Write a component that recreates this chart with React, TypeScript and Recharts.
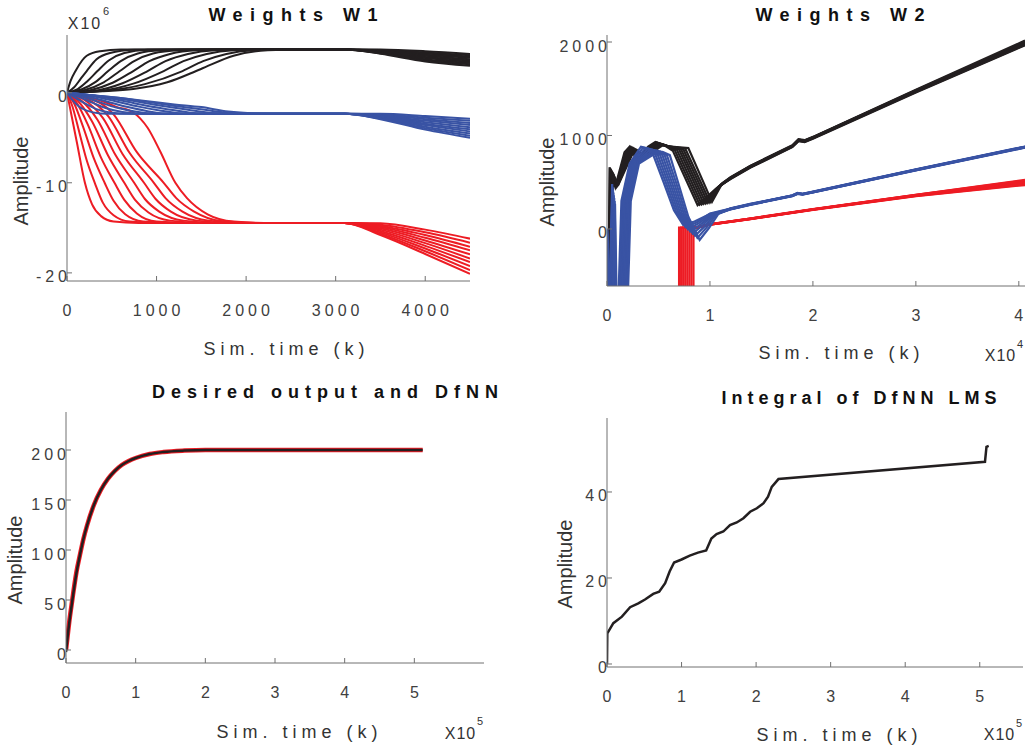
import React from 'react';
import { LineChart, Line, XAxis, YAxis } from 'recharts';

type Pt = [number, number];

const FONT = '"Liberation Sans", Arial, Helvetica, sans-serif';
const BLACK = '#231f20';
const BLUE = '#3953a4';
const RED = '#ed1c24';
const AXIS = '#707070';

// ---------- Weights W1 (x: samples, y: x10^6) ----------
const W1_X_TICKS = [0, 1000, 2000, 3000, 4000];
const W1_Y_TICKS = [-20, -10, 0];

const W1_BLACK: Pt[][] = [
  [[0,0],[40,1.3],[100,2.5],[220,4.1],[370,4.6],[600,4.8],[3100,4.8],[3500,4.78],[4000,4.6],[4500,4.3]],
  [[0,0],[80,0.6],[150,1.5],[220,2.4],[330,3.7],[480,4.4],[750,4.75],[1100,4.8],[3100,4.8],[3500,4.73],[4000,4.47],[4500,4.15]],
  [[0,0],[120,0.4],[230,1.3],[340,2.4],[470,3.6],[640,4.4],[900,4.75],[1300,4.8],[3100,4.8],[3500,4.68],[4000,4.35],[4500,4.01]],
  [[0,0],[160,0.35],[320,1.2],[460,2.4],[600,3.5],[790,4.35],[1050,4.7],[1500,4.8],[3100,4.8],[3500,4.63],[4000,4.22],[4500,3.87]],
  [[0,0],[200,0.3],[410,1.15],[590,2.4],[750,3.5],[960,4.35],[1250,4.7],[1700,4.8],[3100,4.8],[3500,4.58],[4000,4.1],[4500,3.72]],
  [[0,0],[250,0.25],[510,1.1],[740,2.4],[920,3.5],[1150,4.3],[1450,4.7],[1900,4.8],[3100,4.8],[3500,4.52],[4000,3.97],[4500,3.58]],
  [[0,0],[300,0.2],[620,1.05],[900,2.4],[1100,3.5],[1350,4.3],[1650,4.7],[2100,4.8],[3100,4.8],[3500,4.47],[4000,3.85],[4500,3.44]],
  [[0,0],[360,0.18],[740,1.0],[1080,2.4],[1300,3.5],[1560,4.3],[1860,4.7],[2300,4.8],[3100,4.8],[3500,4.42],[4000,3.72],[4500,3.29]],
  [[0,0],[370,0.15],[870,0.95],[1290,2.4],[1520,3.5],[1780,4.3],[2080,4.7],[2450,4.8],[3100,4.8],[3500,4.37],[4000,3.6],[4500,3.15]],
  [[0,0],[370,0.15],[740,0.4],[1120,1.15],[1490,2.6],[1860,4.1],[2240,4.7],[2600,4.8],[3100,4.8],[3500,4.32],[4000,3.47],[4500,3.0]],
];

const W1_RED: Pt[][] = [
  [[0,0],[50,-2.5],[110,-5.5],[200,-10],[280,-12.4],[380,-13.7],[520,-14.3],[800,-14.45],[3100,-14.45],[3500,-14.5],[4000,-15.2],[4500,-16.2]],
  [[0,0],[60,-1.5],[140,-4.5],[220,-7.5],[310,-10],[400,-12.2],[520,-13.6],[700,-14.3],[1000,-14.45],[3100,-14.45],[3500,-14.65],[4000,-15.5],[4500,-16.65]],
  [[0,0],[80,-1.2],[180,-3.8],[300,-7.3],[420,-10],[520,-12],[650,-13.5],[850,-14.3],[1200,-14.45],[3100,-14.45],[3500,-14.8],[4000,-15.8],[4500,-17.1]],
  [[0,0],[100,-1],[230,-3.5],[380,-7.2],[530,-10],[640,-11.9],[780,-13.4],[1000,-14.3],[1400,-14.45],[3100,-14.45],[3500,-14.9],[4000,-16.1],[4500,-17.5]],
  [[0,0],[120,-0.9],[280,-3.2],[460,-7],[640,-10],[760,-11.9],[910,-13.3],[1150,-14.2],[1550,-14.45],[3100,-14.45],[3500,-15.05],[4000,-16.4],[4500,-17.95]],
  [[0,0],[150,-0.8],[340,-3],[540,-6.9],[750,-10],[870,-11.8],[1030,-13.2],[1300,-14.2],[1700,-14.45],[3100,-14.45],[3500,-15.2],[4000,-16.7],[4500,-18.4]],
  [[0,0],[180,-0.7],[400,-2.8],[620,-6.8],[860,-10],[990,-11.8],[1160,-13.2],[1450,-14.2],[1850,-14.45],[3100,-14.45],[3500,-15.35],[4000,-17.0],[4500,-18.8]],
  [[0,0],[210,-0.6],[460,-2.6],[700,-6.7],[970,-10],[1100,-11.7],[1290,-13.2],[1580,-14.2],[2000,-14.45],[3100,-14.45],[3500,-15.5],[4000,-17.3],[4500,-19.25]],
  [[0,0],[240,-0.55],[520,-2.4],[780,-6.6],[1080,-10],[1220,-11.7],[1420,-13.2],[1720,-14.25],[2100,-14.45],[3100,-14.45],[3500,-15.65],[4000,-17.6],[4500,-19.7]],
  [[0,0],[270,-0.5],[560,-1.6],[740,-2.2],[900,-3.9],[1040,-6.5],[1210,-10],[1340,-11.7],[1570,-13.5],[1860,-14.3],[2200,-14.45],[3100,-14.45],[3500,-15.8],[4000,-17.9],[4500,-20.1]],
];

const W1_BLUE: Pt[][] = [
  [[0,0],[60,-0.8],[130,-1.5],[220,-2.0],[370,-2.3],[550,-2.35],[3100,-2.35],[3500,-2.35],[4000,-2.6],[4500,-2.9]],
  [[0,0],[100,-0.6],[200,-1.2],[320,-1.8],[480,-2.2],[700,-2.35],[3100,-2.35],[3500,-2.42],[4000,-2.77],[4500,-3.13]],
  [[0,0],[140,-0.5],[280,-1.1],[430,-1.7],[620,-2.15],[850,-2.35],[3100,-2.35],[3500,-2.48],[4000,-2.94],[4500,-3.37]],
  [[0,0],[180,-0.45],[360,-1.05],[550,-1.65],[760,-2.1],[1000,-2.35],[3100,-2.35],[3500,-2.55],[4000,-3.1],[4500,-3.6]],
  [[0,0],[220,-0.4],[450,-1.0],[680,-1.6],[900,-2.05],[1150,-2.35],[3100,-2.35],[3500,-2.62],[4000,-3.27],[4500,-3.83]],
  [[0,0],[260,-0.35],[540,-0.95],[800,-1.55],[1050,-2.0],[1300,-2.33],[1500,-2.35],[3100,-2.35],[3500,-2.68],[4000,-3.44],[4500,-4.07]],
  [[0,0],[300,-0.32],[620,-0.9],[920,-1.5],[1200,-1.95],[1450,-2.3],[1650,-2.35],[3100,-2.35],[3500,-2.75],[4000,-3.6],[4500,-4.3]],
  [[0,0],[300,-0.3],[700,-0.85],[1050,-1.45],[1350,-1.9],[1600,-2.25],[1800,-2.35],[3100,-2.35],[3500,-2.82],[4000,-3.77],[4500,-4.53]],
  [[0,0],[300,-0.3],[750,-0.8],[1150,-1.4],[1500,-1.85],[1750,-2.2],[2000,-2.35],[3100,-2.35],[3500,-2.88],[4000,-3.94],[4500,-4.77]],
  [[0,0],[300,-0.3],[600,-0.6],[900,-0.95],[1200,-1.3],[1500,-1.6],[1800,-2.1],[2100,-2.3],[2400,-2.35],[3100,-2.35],[3500,-2.95],[4000,-4.1],[4500,-5.0]],
];

// ---------- Weights W2 (x: x10^4 samples) ----------
const W2_X_TICKS = [0, 1, 2, 3, 4];
const W2_Y_TICKS = [0, 1000, 2000];

const W2_BLACK: Pt[][] = [
  [[0,0],[0.01,-1200],[0.025,660],[0.05,560],[0.08,450],[0.17,820],[0.22,880],[0.29,740],[0.40,880],[0.47,930],[0.55,900],[0.64,835],[0.88,255],[1.05,420],[1.2,540],[1.39,660],[1.8,880],[1.86,945],[1.92,935],[2,970],[3,1470],[4.06,1975]],
  [[0,0],[0.01,-1200],[0.03,650],[0.055,555],[0.085,455],[0.18,815],[0.23,875],[0.30,745],[0.41,875],[0.48,925],[0.56,897],[0.66,840],[0.90,260],[1.06,430],[1.2,545],[1.39,665],[1.8,885],[1.86,950],[1.92,940],[2,975],[3,1475],[4.06,1985]],
  [[0,0],[0.01,-1200],[0.035,640],[0.06,550],[0.09,460],[0.19,810],[0.24,870],[0.31,750],[0.42,870],[0.49,920],[0.57,894],[0.68,845],[0.92,265],[1.07,440],[1.2,550],[1.39,670],[1.8,890],[1.86,955],[1.92,945],[2,980],[3,1480],[4.06,1995]],
  [[0,0],[0.01,-1200],[0.04,630],[0.065,545],[0.095,465],[0.20,805],[0.25,865],[0.32,755],[0.43,865],[0.50,915],[0.58,891],[0.70,850],[0.94,270],[1.08,450],[1.2,540],[1.39,660],[1.8,880],[1.86,945],[1.92,935],[2,970],[3,1465],[4.06,1970]],
  [[0,0],[0.015,-1200],[0.045,620],[0.07,540],[0.10,470],[0.21,800],[0.26,860],[0.33,760],[0.44,860],[0.51,910],[0.59,888],[0.72,852],[0.96,275],[1.09,460],[1.2,535],[1.39,655],[1.8,875],[1.86,940],[1.92,930],[2,965],[3,1460],[4.06,1965]],
  [[0,0],[0.015,-1200],[0.05,610],[0.075,535],[0.105,475],[0.22,795],[0.27,855],[0.34,765],[0.45,855],[0.52,905],[0.60,885],[0.74,855],[0.98,280],[1.10,470],[1.2,545],[1.39,665],[1.8,885],[1.86,950],[1.92,940],[2,975],[3,1478],[4.06,1990]],
  [[0,0],[0.015,-1200],[0.055,600],[0.08,530],[0.11,480],[0.23,790],[0.28,850],[0.35,770],[0.46,850],[0.53,900],[0.61,882],[0.76,860],[1.00,285],[1.11,480],[1.2,550],[1.39,670],[1.8,890],[1.86,955],[1.92,945],[2,980],[3,1485],[4.06,2005]],
  [[0,0],[0.015,-1200],[0.06,590],[0.085,525],[0.115,485],[0.24,785],[0.29,845],[0.36,775],[0.47,845],[0.54,895],[0.62,880],[0.79,865],[1.02,290],[1.12,490],[1.2,555],[1.39,675],[1.8,895],[1.86,960],[1.92,950],[2,985],[3,1490],[4.06,2015]],
];

const W2_BLUE: Pt[][] = [
  [[0,0],[0.004,-1500],[0.05,480],[0.07,-1500],[0.09,-1500],[0.14,300],[0.22,700],[0.33,880],[0.40,860],[0.45,790],[0.55,500],[0.65,200],[0.74,43],[0.85,80],[1.0,160],[1.2,215],[1.39,262],[1.8,355],[1.85,380],[1.9,372],[2,395],[3,632],[4.06,875]],
  [[0,0],[0.01,-1500],[0.054,450],[0.075,-1500],[0.103,-1500],[0.153,300],[0.233,700],[0.35,870],[0.42,855],[0.472,790],[0.57,500],[0.67,190],[0.763,20],[0.87,70],[1.0,165],[1.2,218],[1.39,265],[1.8,358],[1.85,383],[1.9,375],[2,398],[3,636],[4.06,880]],
  [[0,0],[0.016,-1500],[0.058,420],[0.08,-1500],[0.116,-1500],[0.166,300],[0.246,700],[0.37,860],[0.44,850],[0.494,790],[0.59,500],[0.69,180],[0.786,-3],[0.89,60],[1.0,150],[1.2,212],[1.39,260],[1.8,352],[1.85,377],[1.9,369],[2,392],[3,628],[4.06,872]],
  [[0,0],[0.022,-1500],[0.062,390],[0.085,-1500],[0.129,-1500],[0.179,300],[0.259,700],[0.39,850],[0.46,845],[0.516,790],[0.61,500],[0.71,170],[0.809,-26],[0.91,50],[1.0,140],[1.2,210],[1.39,258],[1.8,350],[1.85,375],[1.9,367],[2,390],[3,626],[4.06,870]],
  [[0,0],[0.028,-1500],[0.066,360],[0.09,-1500],[0.142,-1500],[0.192,300],[0.272,700],[0.41,840],[0.48,840],[0.538,790],[0.63,500],[0.73,160],[0.832,-49],[0.93,40],[1.02,145],[1.2,215],[1.39,263],[1.8,356],[1.85,381],[1.9,373],[2,396],[3,634],[4.06,878]],
  [[0,0],[0.034,-1500],[0.07,330],[0.095,-1500],[0.155,-1500],[0.205,300],[0.285,700],[0.43,830],[0.50,835],[0.56,790],[0.65,500],[0.75,150],[0.855,-72],[0.95,30],[1.04,150],[1.2,220],[1.39,268],[1.8,360],[1.85,385],[1.9,377],[2,400],[3,638],[4.06,882]],
  [[0,0],[0.04,-1500],[0.074,300],[0.1,-1500],[0.168,-1500],[0.218,300],[0.298,700],[0.45,820],[0.52,830],[0.582,790],[0.67,500],[0.77,140],[0.878,-95],[0.97,20],[1.06,155],[1.2,218],[1.39,266],[1.8,357],[1.85,382],[1.9,374],[2,397],[3,635],[4.06,879]],
  [[0,0],[0.046,-1500],[0.078,270],[0.105,-1500],[0.181,-1500],[0.231,300],[0.311,700],[0.47,810],[0.54,825],[0.61,790],[0.69,500],[0.79,130],[0.90,-118],[0.99,10],[1.08,160],[1.2,213],[1.39,261],[1.8,353],[1.85,378],[1.9,370],[2,393],[3,630],[4.06,874]],
];

const W2_RED: Pt[][] = [
  [[0,-3000],[0.70,-3000],[0.70,15],[0.86,15],[1.0,45],[1.39,105],[2,205],[3,352],[4.06,470]],
  [[0,-3000],[0.72,-3000],[0.72,15],[0.86,15],[1.0,46],[1.39,106],[2,206],[3,354],[4.06,478]],
  [[0,-3000],[0.74,-3000],[0.74,15],[0.86,15],[1.0,47],[1.39,107],[2,207],[3,356],[4.06,486]],
  [[0,-3000],[0.76,-3000],[0.76,15],[0.86,15],[1.0,48],[1.39,108],[2,208],[3,358],[4.06,494]],
  [[0,-3000],[0.78,-3000],[0.78,15],[0.86,15],[1.0,49],[1.39,109],[2,209],[3,360],[4.06,502]],
  [[0,-3000],[0.80,-3000],[0.80,15],[0.86,15],[1.0,50],[1.39,110],[2,210],[3,362],[4.06,510]],
  [[0,-3000],[0.82,-3000],[0.82,15],[0.86,15],[1.0,51],[1.39,111],[2,211],[3,364],[4.06,518]],
  [[0,-3000],[0.84,-3000],[0.84,15],[0.86,15],[1.0,52],[1.39,112],[2,212],[3,366],[4.06,525]],
];

// ---------- Desired output and DfNN (x: x10^5 samples) ----------
const OUT_X_TICKS = [0, 1, 2, 3, 4, 5];
const OUT_Y_TICKS = [0, 50, 100, 150, 200];
const OUT_X = [0, 0.02, 0.05, 0.08, 0.1, 0.15, 0.2, 0.25, 0.3, 0.4, 0.5, 0.6, 0.7, 0.8, 0.9, 1.0, 1.2, 1.4, 1.7, 2.0, 3.0, 4.0, 5.12];
const DESIRED_Y = [0, 12, 30, 45, 55, 78, 95, 111, 124, 145, 160, 171, 179, 185, 189, 192, 196, 198, 199.4, 200, 200, 200, 200];
const DFNN_Y = [-2, 11, 29, 44, 54, 77, 95, 111, 124, 145, 160, 171, 179, 185, 189, 192, 196, 198, 199.4, 200, 200, 200, 200];

// ---------- Integral of DfNN LMS (x: x10^5 samples) ----------
const LMS_X_TICKS = [0, 1, 2, 3, 4, 5];
const LMS_Y_TICKS = [0, 20, 40];
const LMS_X = [0, 0.004, 0.085, 0.2, 0.31, 0.42, 0.51, 0.62, 0.7, 0.78, 0.84, 0.9, 1.0, 1.11, 1.22, 1.33, 1.4, 1.47, 1.56, 1.65, 1.74, 1.83, 1.92, 2.01, 2.1, 2.16, 2.21, 2.3, 5.07, 5.09, 5.12];
const LMS_Y = [0, 7.1, 9.5, 11.0, 13.2, 14.1, 15.0, 16.3, 16.8, 18.8, 21.5, 23.6, 24.3, 25.2, 25.9, 26.4, 29.2, 30.2, 30.8, 32.3, 32.9, 33.9, 35.4, 36.2, 37.4, 38.9, 41.2, 43.0, 47.0, 50.5, 50.7];

const zipPts = (xs: number[], ys: number[]): Pt[] => xs.map((x, i) => [x, ys[i]] as Pt);
const toRows = (pts: Pt[]) => pts.map(([x, y]) => ({ x, y }));

interface Series {
  color: string;
  width: number;
  lines: Pt[][];
}

const XTick = (p: any) => (
  <text
    x={p.x + 2}
    y={p.y + 29}
    textAnchor="middle"
    dominantBaseline="central"
    fill="#404040"
    fontSize={16}
    fontFamily={FONT}
    style={{ letterSpacing: 4 }}
  >
    {p.payload.value}
  </text>
);

const YTick = (p: any) => (
  <text
    x={p.x + 4}
    y={p.y + 4}
    textAnchor="end"
    dominantBaseline="central"
    fill="#404040"
    fontSize={16}
    fontFamily={FONT}
    style={{ letterSpacing: 4 }}
  >
    {p.payload.value}
  </text>
);

interface PanelProps {
  plot: [number, number, number, number]; // left, top, right, bottom in page px
  xDomain: [number, number];
  yDomain: [number, number];
  xTicks: number[];
  yTicks: number[];
  series: Series[];
  curve: 'monotone' | 'linear';
}

function Panel({ plot, xDomain, yDomain, xTicks, yTicks, series, curve }: PanelProps) {
  const [L, T, R, B] = plot;
  return (
    <div style={{ position: 'absolute', left: 0, top: 0 }}>
      <LineChart
        width={1026}
        height={751}
        margin={{ left: L - 40, top: T, right: 1026 - R, bottom: 751 - B - 40 }}
      >
        <XAxis
          type="number"
          dataKey="x"
          domain={xDomain}
          ticks={xTicks}
          interval={0}
          allowDataOverflow
          height={40}
          tickSize={-5}
          tickMargin={5}
          stroke={AXIS}
          tickLine={{ stroke: AXIS }}
          tick={XTick}
        />
        <YAxis
          type="number"
          domain={yDomain}
          ticks={yTicks}
          interval={0}
          allowDataOverflow
          width={40}
          tickSize={-5}
          tickMargin={5}
          stroke={AXIS}
          tickLine={{ stroke: AXIS }}
          tick={YTick}
        />
        {series.flatMap((s, si) =>
          s.lines.map((pts, li) => (
            <Line
              key={`${si}-${li}`}
              data={toRows(pts)}
              dataKey="y"
              type={curve}
              stroke={s.color}
              strokeWidth={s.width}
              dot={false}
              activeDot={false}
              isAnimationActive={false}
            />
          ))
        )}
      </LineChart>
    </div>
  );
}

interface TxtProps {
  x: number;
  y: number;
  size?: number;
  bold?: boolean;
  ls?: number;
  rotate?: number;
  color?: string;
  children: React.ReactNode;
}

function Txt({ x, y, size = 16, bold = false, ls = 0, rotate = 0, color = '#333', children }: TxtProps) {
  return (
    <div
      style={{
        position: 'absolute',
        left: x,
        top: y,
        transform: `translate(-50%, -50%) rotate(${rotate}deg)`,
        fontSize: size,
        fontWeight: bold ? 700 : 400,
        letterSpacing: ls,
        paddingLeft: ls,
        whiteSpace: 'nowrap',
        color,
        fontFamily: FONT,
        lineHeight: 1,
      }}
    >
      {children}
    </div>
  );
}

export default function App() {
  return (
    <div
      style={{
        position: 'absolute',
        left: 0,
        top: 0,
        width: 1026,
        height: 751,
        background: '#ffffff',
        overflow: 'hidden',
        fontFamily: FONT,
      }}
    >
      <Panel
        plot={[67, 35, 470, 281]}
        xDomain={[0, 4500]}
        yDomain={[-20.9, 6.4]}
        xTicks={W1_X_TICKS}
        yTicks={W1_Y_TICKS}
        curve="monotone"
        series={[
          { color: BLACK, width: 2, lines: W1_BLACK },
          { color: RED, width: 2, lines: W1_RED },
          { color: BLUE, width: 2, lines: W1_BLUE },
        ]}
      />
      <Panel
        plot={[607, 35, 1025, 286]}
        xDomain={[0, 4.06]}
        yDomain={[-610, 2075]}
        xTicks={W2_X_TICKS}
        yTicks={W2_Y_TICKS}
        curve="linear"
        series={[
          { color: BLACK, width: 2.2, lines: W2_BLACK },
          { color: RED, width: 2.2, lines: W2_RED },
          { color: BLUE, width: 2.2, lines: W2_BLUE },
        ]}
      />
      <Panel
        plot={[66, 412, 484, 663]}
        xDomain={[0, 6]}
        yDomain={[-13, 238]}
        xTicks={OUT_X_TICKS}
        yTicks={OUT_Y_TICKS}
        curve="monotone"
        series={[
          { color: RED, width: 4.5, lines: [zipPts(OUT_X, DESIRED_Y)] },
          { color: BLACK, width: 2.5, lines: [zipPts(OUT_X, DFNN_Y)] },
        ]}
      />
      <Panel
        plot={[607, 418, 1023, 667]}
        xDomain={[0, 5.58]}
        yDomain={[-0.7, 57.2]}
        xTicks={LMS_X_TICKS}
        yTicks={LMS_Y_TICKS}
        curve="linear"
        series={[{ color: BLACK, width: 2.5, lines: [zipPts(LMS_X, LMS_Y)] }]}
      />

      {/* titles */}
      <Txt x={293} y={15} size={18} bold ls={7.5} color="#111">Weights W1</Txt>
      <Txt x={840} y={15} size={18} bold ls={7.5} color="#111">Weights W2</Txt>
      <Txt x={325} y={392} size={18} bold ls={6} color="#111">Desired output and DfNN</Txt>
      <Txt x={859} y={398} size={18} bold ls={5} color="#111">Integral of DfNN LMS</Txt>

      {/* x-axis labels */}
      <Txt x={284} y={349} size={18} ls={5}>Sim. time (k)</Txt>
      <Txt x={839} y={353} size={18} ls={5}>Sim. time (k)</Txt>
      <Txt x={297} y={732} size={18} ls={5}>Sim. time (k)</Txt>
      <Txt x={837} y={735} size={18} ls={5}>Sim. time (k)</Txt>

      {/* y-axis labels */}
      <Txt x={21} y={181} size={20} rotate={-90}>Amplitude</Txt>
      <Txt x={547} y={182} size={20} rotate={-90}>Amplitude</Txt>
      <Txt x={15} y={560} size={20} rotate={-90}>Amplitude</Txt>
      <Txt x={565} y={564} size={20} rotate={-90}>Amplitude</Txt>

      {/* axis multipliers */}
      <Txt x={84} y={24} size={16} ls={2}>X10</Txt>
      <Txt x={106} y={11} size={11}>6</Txt>
      <Txt x={1000} y={356} size={16} ls={1}>X10</Txt>
      <Txt x={1020} y={344} size={11}>4</Txt>
      <Txt x={460} y={734} size={16} ls={1}>X10</Txt>
      <Txt x={480} y={721} size={11}>5</Txt>
      <Txt x={999} y={735} size={16} ls={1}>X10</Txt>
      <Txt x={1019} y={723} size={11}>5</Txt>
    </div>
  );
}
